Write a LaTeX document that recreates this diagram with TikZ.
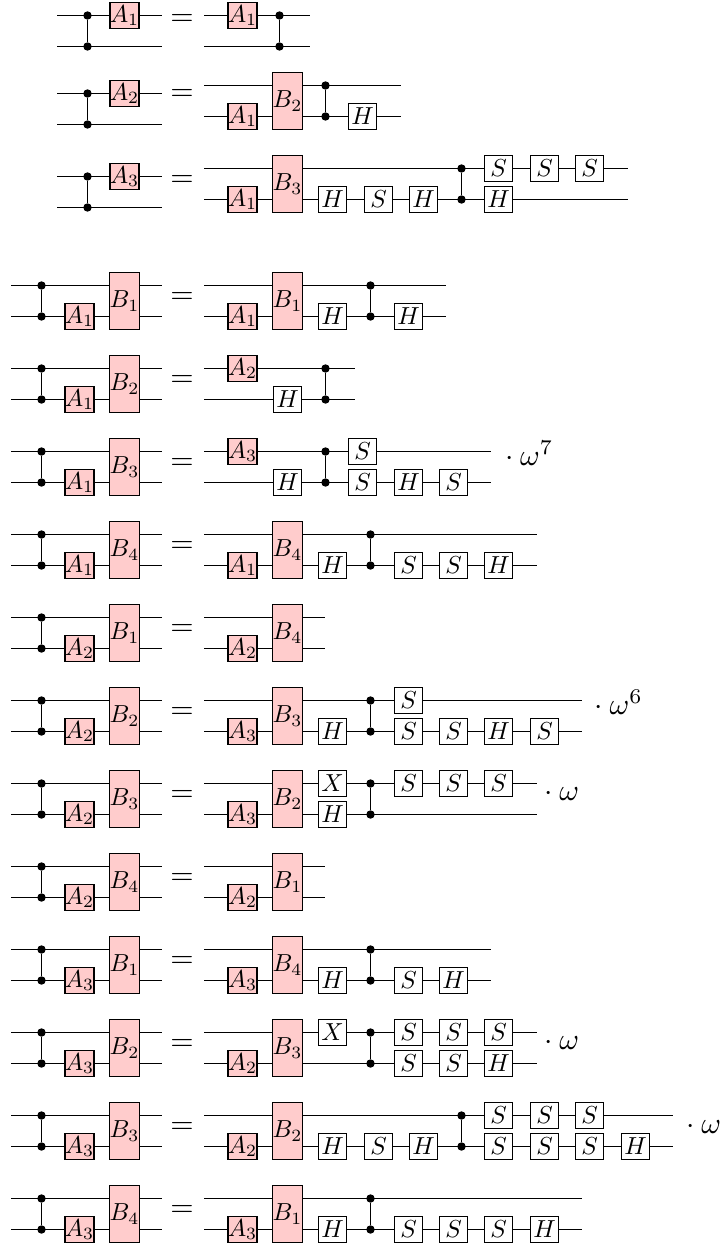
\documentclass[tikz,border=0pt]{standalone}
\usepackage{graphicx}
\definecolor{gatepink}{RGB}{255,204,204}
\tikzset{
  wire/.style={line width=0.55pt},
  gbase/.style={draw, line width=0.55pt, inner sep=0pt, minimum width=9.333pt, minimum height=8.667pt},
  whitegate/.style={gbase, fill=white},
  pinkgate/.style={gbase, fill=gatepink},
  tallgate/.style={pinkgate, minimum height=19pt},
  ctrldot/.style={circle, fill=black, inner sep=0pt, minimum size=2.8pt},
  eqsign/.style={anchor=base, inner sep=0pt},
  phase/.style={anchor=base west, inner sep=0pt},
}
\newcommand\glab[1]{\scalebox{0.82}{$#1$}}
% wires of one circuit: prefix, x start, x end (row centre in \rc)
\newcommand\qwires[3]{%
  \coordinate (#1-us) at (#2,\rc-15.5);
  \coordinate (#1-ue) at (#3,\rc-15.5);
  \coordinate (#1-ls) at (#2,\rc+15.5);
  \coordinate (#1-le) at (#3,\rc+15.5);
  \draw[wire] (#1-us) -- (#1-ue);
  \draw[wire] (#1-ls) -- (#1-le);}
\newcommand\pgU[3]{\node[pinkgate] (#1) at (#2,\rc-15.5) {\glab{#3}};}
\newcommand\pgL[3]{\node[pinkgate] (#1) at (#2,\rc+15.5) {\glab{#3}};}
\newcommand\wgU[3]{\node[whitegate] (#1) at (#2,\rc-15.5) {\glab{#3}};}
\newcommand\wgL[3]{\node[whitegate] (#1) at (#2,\rc+15.5) {\glab{#3}};}
\newcommand\bgate[3]{\node[tallgate] (#1) at (#2,\rc) {\glab{#3}};}
\newcommand\cz[2]{%
  \node[ctrldot] (#1-u) at (#2,\rc-15.5) {};
  \node[ctrldot] (#1-l) at (#2,\rc+15.5) {};
  \draw[wire] (#1-u) -- (#1-l);}
\newcommand\toplhs[4]{%
  \def\rc{#2}%
  \qwires{#1}{57}{162}%
  \cz{#1-c}{87.5}%
  \pgU{#1-a}{124.5}{#3}%
  \node[eqsign] (#1-eq) at (182,#4) {$=$};}
\newcommand\lhsrow[4]{%
  \def\rc{#2}%
  \qwires{#1}{11}{162}%
  \cz{#1-c}{41.5}%
  \pgL{#1-a}{79.5}{#3}%
  \bgate{#1-b}{124.5}{#4}%
  \node[eqsign] (#1-eq) at (182,#2+2.5) {$=$};}
\begin{document}
\begin{tikzpicture}[x=0.33333pt, y=-0.33333pt]
\useasboundingbox (0,0) rectangle (722,1243);
% ---------- top block ----------
\toplhs{t1l}{31}{A_1}{25.5}
\def\rc{31}
\qwires{t1r}{204}{309.6}
\pgU{t1r-a}{242.5}{A_1}
\cz{t1r-c}{279.5}

\toplhs{t2l}{109}{A_2}{100.5}
\def\rc{101}
\qwires{t2r}{204}{400.6}
\pgL{t2r-a}{242.5}{A_1}
\bgate{t2r-b}{287.5}{B_2}
\cz{t2r-c}{325.5}
\wgL{t2r-h}{362.5}{H}

\toplhs{t3l}{192}{A_3}{186.5}
\def\rc{184}
\qwires{t3r}{204}{627.6}
\pgL{t3r-a}{242.5}{A_1}
\bgate{t3r-b}{287.5}{B_3}
\wgL{t3r-h1}{332.5}{H}
\wgL{t3r-s1}{378.5}{S}
\wgL{t3r-h2}{423.5}{H}
\cz{t3r-c}{461.5}
\wgU{t3r-s2}{498.5}{S}
\wgL{t3r-h3}{498.5}{H}
\wgU{t3r-s3}{544.5}{S}
\wgU{t3r-s4}{589.5}{S}

% ---------- bottom block ----------
\lhsrow{b0l}{301}{A_1}{B_1}
\qwires{b0r}{204}{446}
\pgL{b0r-a}{242.5}{A_1}
\bgate{b0r-b}{287.5}{B_1}
\wgL{b0r-h1}{332.5}{H}
\cz{b0r-c}{370.5}
\wgL{b0r-h2}{408.5}{H}

\lhsrow{b1l}{384}{A_1}{B_2}
\qwires{b1r}{204}{355}
\pgU{b1r-a}{242.5}{A_2}
\wgL{b1r-h}{287.5}{H}
\cz{b1r-c}{325.5}

\lhsrow{b2l}{467}{A_1}{B_3}
\qwires{b2r}{204}{491.4}
\pgU{b2r-a}{242.5}{A_3}
\wgL{b2r-h1}{287.5}{H}
\cz{b2r-c}{325.5}
\wgU{b2r-s1}{362.5}{S}
\wgL{b2r-s2}{362.5}{S}
\wgL{b2r-h2}{408.5}{H}
\wgL{b2r-s3}{453.5}{S}
\node[phase] (b2r-w) at (497.8,465) {${}\cdot\omega^7$};

\lhsrow{b3l}{550}{A_1}{B_4}
\qwires{b3r}{204}{536.8}
\pgL{b3r-a}{242.5}{A_1}
\bgate{b3r-b}{287.5}{B_4}
\wgL{b3r-h1}{332.5}{H}
\cz{b3r-c}{370.5}
\wgL{b3r-s1}{408.5}{S}
\wgL{b3r-s2}{453.5}{S}
\wgL{b3r-h2}{498.5}{H}

\lhsrow{b4l}{633}{A_2}{B_1}
\qwires{b4r}{204}{325.4}
\pgL{b4r-a}{242.5}{A_2}
\bgate{b4r-b}{287.5}{B_4}

\lhsrow{b5l}{716}{A_2}{B_2}
\qwires{b5r}{204}{582.2}
\pgL{b5r-a}{242.5}{A_3}
\bgate{b5r-b}{287.5}{B_3}
\wgL{b5r-h1}{332.5}{H}
\cz{b5r-c}{370.5}
\wgU{b5r-s1}{408.5}{S}
\wgL{b5r-s2}{408.5}{S}
\wgL{b5r-s3}{453.5}{S}
\wgL{b5r-h2}{498.5}{H}
\wgL{b5r-s4}{544.5}{S}
\node[phase] (b5r-w) at (587.4,714) {${}\cdot\omega^6$};

\lhsrow{b6l}{799}{A_2}{B_3}
\qwires{b6r}{204}{536.8}
\pgL{b6r-a}{242.5}{A_3}
\bgate{b6r-b}{287.5}{B_2}
\wgU{b6r-x}{332.5}{X}
\wgL{b6r-h}{332.5}{H}
\cz{b6r-c}{370.5}
\wgU{b6r-s1}{408.5}{S}
\wgU{b6r-s2}{453.5}{S}
\wgU{b6r-s3}{498.5}{S}
\node[phase] (b6r-w) at (537.1,800) {${}\cdot\omega$};

\lhsrow{b7l}{882}{A_2}{B_4}
\qwires{b7r}{204}{325.4}
\pgL{b7r-a}{242.5}{A_2}
\bgate{b7r-b}{287.5}{B_1}

\lhsrow{b8l}{965}{A_3}{B_1}
\qwires{b8r}{204}{491.4}
\pgL{b8r-a}{242.5}{A_3}
\bgate{b8r-b}{287.5}{B_4}
\wgL{b8r-h1}{332.5}{H}
\cz{b8r-c}{370.5}
\wgL{b8r-s}{408.5}{S}
\wgL{b8r-h2}{453.5}{H}

\lhsrow{b9l}{1048}{A_3}{B_2}
\qwires{b9r}{204}{536.8}
\pgL{b9r-a}{242.5}{A_2}
\bgate{b9r-b}{287.5}{B_3}
\wgU{b9r-x}{332.5}{X}
\cz{b9r-c}{370.5}
\wgU{b9r-s1}{408.5}{S}
\wgL{b9r-s2}{408.5}{S}
\wgU{b9r-s3}{453.5}{S}
\wgL{b9r-s4}{453.5}{S}
\wgU{b9r-s5}{498.5}{S}
\wgL{b9r-h}{498.5}{H}
\node[phase] (b9r-w) at (537.1,1049) {${}\cdot\omega$};

\lhsrow{b10l}{1131}{A_3}{B_3}
\qwires{b10r}{204}{673}
\pgL{b10r-a}{242.5}{A_2}
\bgate{b10r-b}{287.5}{B_2}
\wgL{b10r-h1}{332.5}{H}
\wgL{b10r-s1}{378.5}{S}
\wgL{b10r-h2}{423.5}{H}
\cz{b10r-c}{461.5}
\wgU{b10r-s2}{498.5}{S}
\wgL{b10r-s3}{498.5}{S}
\wgU{b10r-s4}{544.5}{S}
\wgL{b10r-s5}{544.5}{S}
\wgU{b10r-s6}{589.5}{S}
\wgL{b10r-s7}{589.5}{S}
\wgL{b10r-h3}{635.5}{H}
\node[phase] (b10r-w) at (679.1,1133) {${}\cdot\omega$};

\lhsrow{b11l}{1214}{A_3}{B_4}
\qwires{b11r}{204}{582.2}
\pgL{b11r-a}{242.5}{A_3}
\bgate{b11r-b}{287.5}{B_1}
\wgL{b11r-h1}{332.5}{H}
\cz{b11r-c}{370.5}
\wgL{b11r-s1}{408.5}{S}
\wgL{b11r-s2}{453.5}{S}
\wgL{b11r-s3}{498.5}{S}
\wgL{b11r-h2}{544.5}{H}
\end{tikzpicture}
\end{document}
